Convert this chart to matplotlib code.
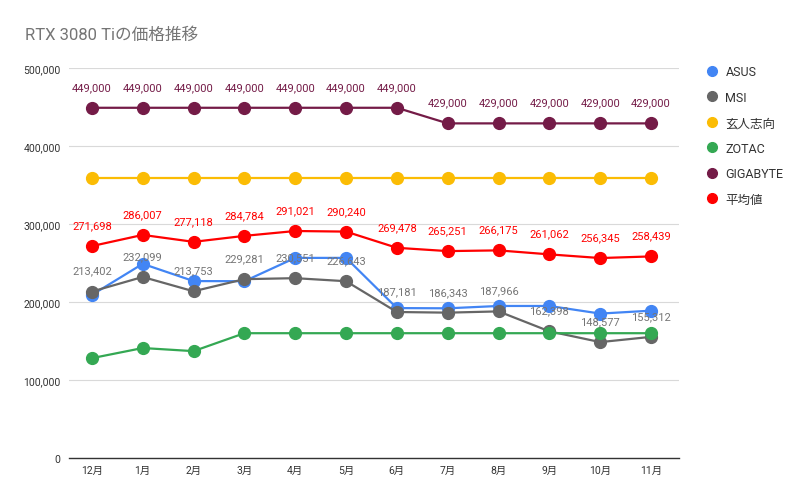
import matplotlib.pyplot as plt
from matplotlib.lines import Line2D

plt.rcParams['font.family'] = ['Roboto', 'Noto Sans CJK JP', 'DejaVu Sans']

months = ["12月", "1月", "2月", "3月", "4月", "5月", "6月", "7月", "8月", "9月", "10月", "11月"]

asus = [209088, 248936, 226837, 226639, 256554, 256557, 192209, 191912, 194909, 194912, 185148, 188883]
msi = [213402, 232099, 213753, 229281, 230551, 226643, 187181, 186343, 187966, 162398, 148577, 155312]
kurouto = [359000] * 12
zotac = [128000, 141000, 137000, 160000, 160000, 160000, 160000, 160000, 160000, 160000, 160000, 160000]
gigabyte = [449000, 449000, 449000, 449000, 449000, 449000, 449000, 429000, 429000, 429000, 429000, 429000]
average = [271698, 286007, 277118, 284784, 291021, 290240, 269478, 265251, 266175, 261062, 256345, 258439]

series = [
    ("ASUS", asus, "#4285f4", False),
    ("MSI", msi, "#666666", True),
    ("玄人志向", kurouto, "#fbbc04", False),
    ("ZOTAC", zotac, "#34a853", False),
    ("GIGABYTE", gigabyte, "#741b47", True),
    ("平均値", average, "#ff0000", True),
]
label_colors = {"MSI": "#757575", "GIGABYTE": "#741b47", "平均値": "#ff0000"}

fig = plt.figure(figsize=(8.12, 5.02), dpi=100)
ax = fig.add_axes([69 / 812, 43 / 502, 610 / 812, 390 / 502])

x = list(range(len(months)))
handles = []
for name, vals, color, labelled in series:
    ax.plot(x, vals, color=color, lw=1.6, marker="o", ms=8.5, zorder=3)
    handles.append(Line2D([], [], ls="", marker="o", ms=7, color=color))
    if labelled:
        for xi, v in zip(x, vals):
            ax.annotate(f"{v:,}", (xi, v), xytext=(0, 15), textcoords="offset points",
                        ha="center", va="center", fontsize=8,
                        color=label_colors[name], zorder=4)

ax.set_xlim(-0.45, 11.55)
ax.set_ylim(0, 500000)
ax.set_yticks(range(0, 500001, 100000))
ax.set_yticklabels([f"{v:,}" for v in range(0, 500001, 100000)])
ax.set_xticks(x)
ax.set_xticklabels(months)
ax.tick_params(axis="both", length=0, labelsize=7.5, colors="#333333")
ax.tick_params(axis="x", pad=5)
ax.tick_params(axis="y", pad=6)
ax.grid(axis="y", color="#d9d9d9", lw=0.8)
ax.set_axisbelow(True)
for s in ["top", "right", "left"]:
    ax.spines[s].set_visible(False)
ax.spines["bottom"].set_color("#333333")
ax.spines["bottom"].set_linewidth(1.0)

fig.text(25 / 812, 1 - 35 / 502, "RTX 3080 Tiの価格推移", fontsize=12, color="#757575",
         va="center", ha="left")

fig.legend(handles, [s[0] for s in series], loc="upper left",
           bbox_to_anchor=(693 / 812, 1 - 55 / 502), frameon=False,
           fontsize=9, labelspacing=1.0, handletextpad=0.5, handlelength=1.2,
           labelcolor="#333333")

fig.savefig("out.png", dpi=100)
